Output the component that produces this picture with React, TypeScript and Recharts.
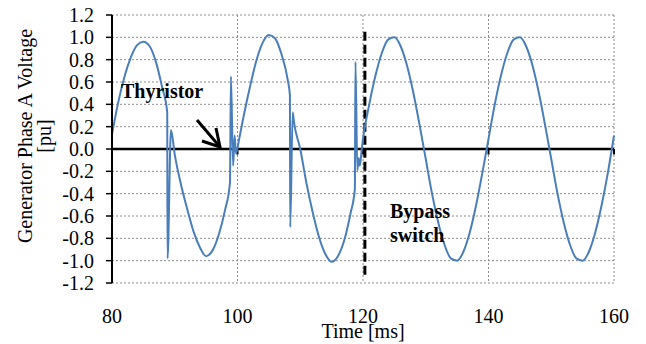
import React from 'react';
import { LineChart, Line, XAxis, YAxis, CartesianGrid, ReferenceLine } from 'recharts';

// time in ms, voltage in pu
const timeMs = [
  80, 81, 82, 83, 84, 85, 86, 87, 88, 88.8, 88.85, 89.4,
  90, 91, 92, 93, 94, 95, 96, 97, 98, 98.8, 98.95, 99.3, 99.55, 99.75,
  100.3, 101, 102, 103, 104, 105, 106, 107, 108, 108.35, 108.4, 108.8, 109,
  110, 111, 112, 113, 114, 115, 116, 117, 118, 118.7, 118.8, 119.1, 119.3, 119.5, 119.8,
  120, 121, 122, 123, 124, 125, 126, 127, 128, 129,
  130, 131, 132, 133, 134, 135, 136, 137, 138, 139,
  140, 141, 142, 143, 144, 145, 146, 147, 148, 149,
  150, 151, 152, 153, 154, 155, 156, 157, 158, 159, 160,
];
const phaseA = [
  0.13, 0.42, 0.65, 0.82, 0.93, 0.96, 0.92, 0.78, 0.55, 0.33, -0.98, 0.17,
  -0.05, -0.32, -0.54, -0.74, -0.88, -0.96, -0.91, -0.77, -0.55, -0.3, 0.65, -0.15, 0.12, -0.04,
  0.1, 0.3, 0.56, 0.79, 0.95, 1.02, 0.99, 0.85, 0.62, 0.48, -0.7, 0.33, 0.24,
  0.0, -0.31, -0.57, -0.79, -0.94, -1.01, -0.96, -0.82, -0.58, -0.36, 0.78, -0.19, -0.08, -0.15, 0.0,
  0.09, 0.4, 0.66, 0.86, 0.98, 1.0, 0.92, 0.75, 0.51, 0.22,
  -0.09, -0.4, -0.66, -0.86, -0.98, -1.0, -0.92, -0.75, -0.51, -0.22,
  0.09, 0.4, 0.66, 0.86, 0.98, 1.0, 0.92, 0.75, 0.51, 0.22,
  -0.09, -0.4, -0.66, -0.86, -0.98, -1.0, -0.92, -0.75, -0.51, -0.22, 0.12,
];
const xTicks = [80, 100, 120, 140, 160];
const yTicks = [-1.2, -1.0, -0.8, -0.6, -0.4, -0.2, 0, 0.2, 0.4, 0.6, 0.8, 1.0, 1.2];
const bypassTime = 120.3;

const data = timeMs.map((t, i) => ({ t, v: phaseA[i] }));

const font = '"Liberation Serif", "Times New Roman", serif';

const XTick = ({ x, y, payload }: any) => (
  <text x={x} y={y} dy="0.71em" textAnchor="middle" fontSize={20} fontFamily={font} fill="#000">
    {payload.value}
  </text>
);

const YTick = ({ x, y, payload }: any) => (
  <text x={x} y={y} dy="0.355em" textAnchor="end" fontSize={20} fontFamily={font} fill="#000">
    {Number(payload.value).toFixed(1)}
  </text>
);

export default function App() {
  return (
    <div style={{ position: 'absolute', left: 0, top: 0, width: 646, height: 344, background: '#fff', fontFamily: font }}>
      <LineChart width={646} height={344} data={data} margin={{ top: 15, right: 32, left: 0, bottom: 0 }}>
        <CartesianGrid stroke="#8c8c8c" strokeDasharray="2 2" />
        <XAxis
          dataKey="t"
          type="number"
          domain={[80, 160]}
          ticks={xTicks}
          axisLine={false}
          tickLine={false}
          tickMargin={20}
          height={61}
          interval={0}
          tick={<XTick />}
          label={{ value: 'Time [ms]', position: 'insideBottom', offset: 6, fill: '#000', fontSize: 20, fontFamily: font }}
        />
        <YAxis
          type="number"
          domain={[-1.2, 1.2]}
          ticks={yTicks}
          interval={0}
          width={112}
          tickSize={6}
          tickMargin={12}
          axisLine={{ stroke: '#000', strokeWidth: 2 }}
          tickLine={{ stroke: '#000', strokeWidth: 1.5 }}
          tick={<YTick />}
        />
        <ReferenceLine y={0} stroke="#000" strokeWidth={2.5} />
        {xTicks.slice(1).map(x => (
          <ReferenceLine key={x} segment={[{ x, y: 0 }, { x, y: -0.05 }]} stroke="#000" strokeWidth={2} />
        ))}
        <ReferenceLine
          segment={[{ x: bypassTime, y: 1.05 }, { x: bypassTime, y: -1.15 }]}
          stroke="#000"
          strokeWidth={3}
          strokeDasharray="9 4"
        />
        <Line
          type="monotone"
          dataKey="v"
          stroke="#4a7ebb"
          strokeWidth={2}
          dot={false}
          isAnimationActive={false}
        />
      </LineChart>
      <svg width={646} height={344} style={{ position: 'absolute', left: 0, top: 0, pointerEvents: 'none' }}>
        <text x={32} y={136} transform="rotate(-90, 32, 136)" textAnchor="middle" fontSize={20} fontFamily={font} fill="#000">
          Generator Phase A Voltage
        </text>
        <text x={51} y={136} transform="rotate(-90, 51, 136)" textAnchor="middle" fontSize={20} fontFamily={font} fill="#000">
          [pu]
        </text>
        <text x={121} y={98} fontSize={20} fontWeight="bold" fontFamily={font} fill="#000">Thyristor</text>
        <line x1={197} y1={120} x2={220} y2={147} stroke="#000" strokeWidth={3} />
        <polyline points="202,141 220,147 216,128" fill="none" stroke="#000" strokeWidth={3} />
        <text x={390} y={218} fontSize={20} fontWeight="bold" fontFamily={font} fill="#000">Bypass</text>
        <text x={390} y={242} fontSize={20} fontWeight="bold" fontFamily={font} fill="#000">switch</text>
      </svg>
    </div>
  );
}
